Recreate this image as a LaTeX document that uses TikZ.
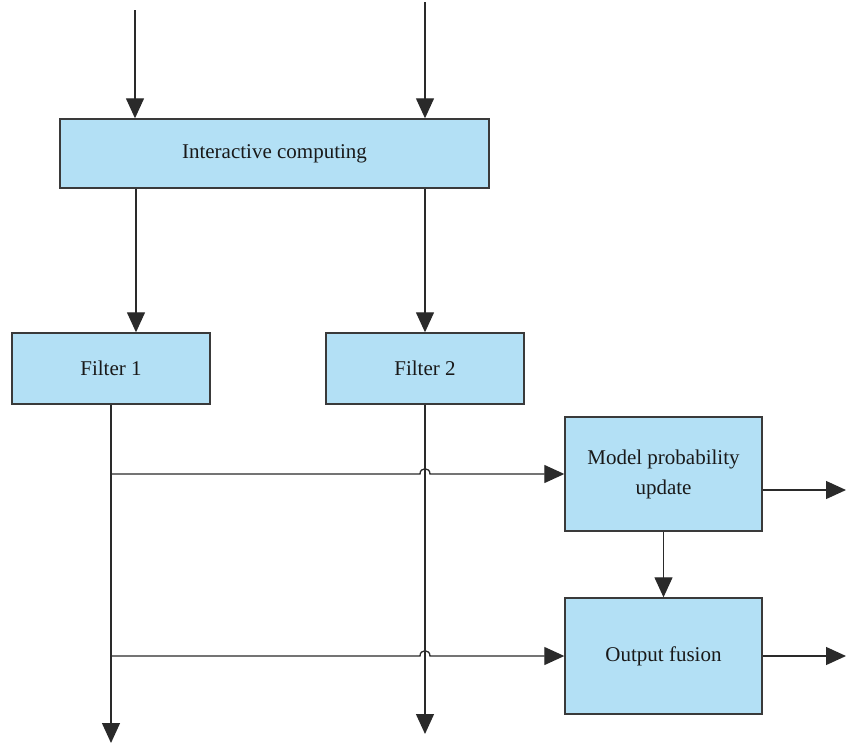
\documentclass[tikz,border=0pt]{standalone}
\usepackage{fontspec}
\setmainfont{Liberation Serif}
\usetikzlibrary{arrows.meta}
\definecolor{boxfill}{HTML}{B3E0F5}
\definecolor{boxline}{HTML}{3A3A3A}
\definecolor{wire}{HTML}{2A2A2A}
\begin{document}
\begin{tikzpicture}[x=1pt,y=-1pt,
  block/.style={draw=boxline,line width=1.4pt,fill=boxfill,inner sep=0pt,
    font=\fontsize{21}{30}\selectfont,text=black!90,align=center},
  flow/.style={draw=wire,line width=1.3pt,-{Triangle[length=20pt,width=18pt]}},
  wireline/.style={draw=wire,line width=1.3pt}]
\useasboundingbox (0,0) rectangle (846,744);

% processing blocks
\node[block,minimum width=429pt,minimum height=69pt] (ic) at (274.5,153.5) {Interactive computing};
\node[block,minimum width=198pt,minimum height=71pt] (f1) at (111,368.5) {Filter 1};
\node[block,minimum width=198pt,minimum height=71pt] (f2) at (425,368.5) {Filter 2};
\node[block,minimum width=197pt,minimum height=114pt] (mp) at (663.5,474) {Model probability\\update};
\node[block,minimum width=197pt,minimum height=116pt] (of) at (663.5,656) {Output fusion};

% free ends of the connectors
\coordinate (in1) at (135,10);
\coordinate (in2) at (425,2);
\coordinate (out1) at (111,743);
\coordinate (out2) at (425,734);
\coordinate (mpout) at (846,490);
\coordinate (ofout) at (846,656);

% inputs to the interaction block
\draw[flow] (in1) -- (in1 |- ic.north);
\draw[flow] (in2) -- (in2 |- ic.north);

% interaction block to the filters
\draw[flow] (ic.south -| 136,0) -- (f1.north -| 136,0);
\draw[flow] (ic.south -| f2.north) -- (f2.north);

% filter outputs
\draw[flow] (f1.south) -- (out1);
\draw[flow] (f2.south) -- (out2);

% filter 1 taps, hopping over the filter 2 line
\draw[flow] (111,474) -- (420,474) .. controls (420,467) and (430,467) .. (430,474) -- (mp.west);
\draw[flow] (111,656) -- (420,656) .. controls (420,649) and (430,649) .. (430,656) -- (of.west);

% model probability update
\draw[flow] (mp.south) -- (of.north);
\draw[flow] (mp.east |- mpout) -- (mpout);
\draw[flow] (of.east) -- (ofout);
\end{tikzpicture}
\end{document}
